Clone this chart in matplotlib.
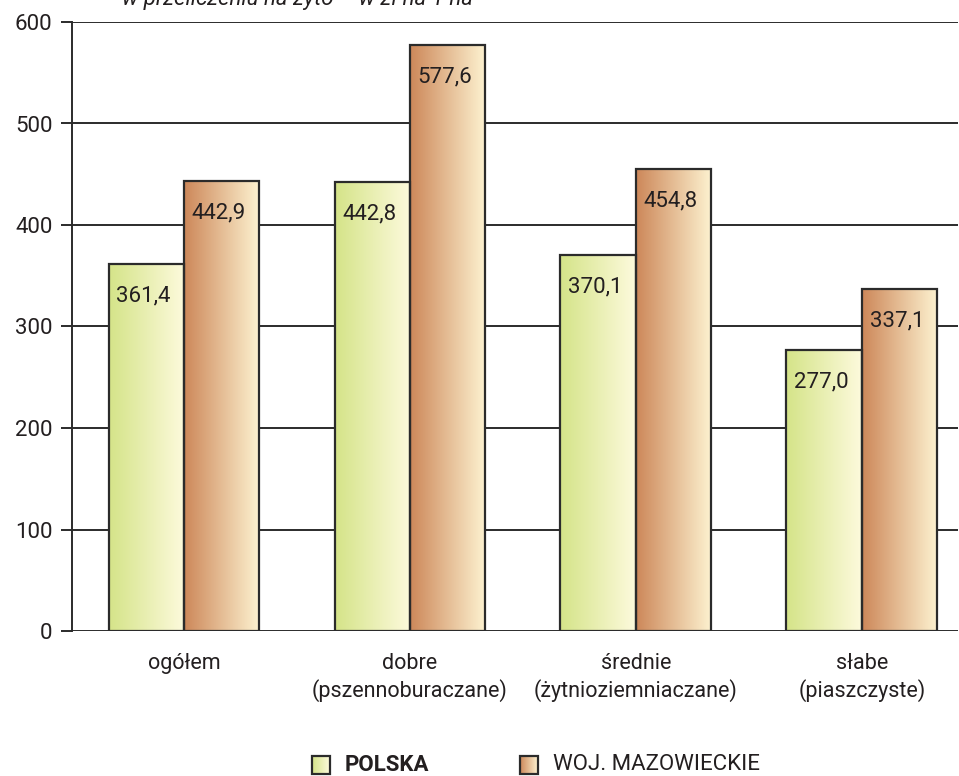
import numpy as np
import matplotlib
matplotlib.use("Agg")
import matplotlib.pyplot as plt
from matplotlib.patches import Rectangle

plt.rcParams['font.family'] = ['Liberation Sans Narrow', 'Roboto', 'DejaVu Sans']

categories = ["ogółem", "dobre\n(pszennoburaczane)", "średnie\n(żytnioziemniaczane)",
              "słabe\n(piaszczyste)"]
polska = [361.4, 442.8, 370.1, 277.0]
mazowieckie = [442.9, 577.6, 454.8, 337.1]
series_names = ["POLSKA", "WOJ. MAZOWIECKIE"]
yticks = [0, 100, 200, 300, 400, 500, 600]
subtitle = "w przeliczeniu na żyto – w zł na 1 ha"

green = ("#d5e489", "#fdfadc")
orange = ("#cd885a", "#fdf2d0")
edge = "#2b2b2b"
text_col = "#231f20"


def gradient(c0, c1, n=64):
    a = np.array(matplotlib.colors.to_rgb(c0))
    b = np.array(matplotlib.colors.to_rgb(c1))
    t = np.linspace(0, 1, n)[None, :, None]
    return a + (b - a) * t


def fmt(v):
    return "{:.1f}".format(v).replace(".", ",")


fig = plt.figure(figsize=(9.59, 7.76), dpi=100)
ax = fig.add_axes([72 / 959, 1 - 631 / 776, 886 / 959, 609 / 776])

x = np.arange(len(categories))
w = 0.334

# horizontal grid lines
for yv in yticks:
    ax.axhline(yv, color=edge, lw=1.4, zorder=1)

for vals, off, cols in [(polska, -w / 2, green), (mazowieckie, w / 2, orange)]:
    bars = ax.bar(x + off, vals, w, facecolor="none", edgecolor=edge, lw=1.6, zorder=4)
    grad = gradient(*cols)
    for b, v in zip(bars, vals):
        x0 = b.get_x()
        ax.imshow(grad, extent=[x0, x0 + b.get_width(), 0, v], aspect="auto",
                  zorder=3, interpolation="bilinear")
        ax.annotate(fmt(v), (x0 + b.get_width() / 2, v), xytext=(-2, -23),
                    textcoords="offset points", ha="center", va="center",
                    fontsize=16, color=text_col, zorder=5)

ax.set_xlim(-0.4956, 3.425)
ax.set_ylim(0, 600)
for s in ["top", "right", "bottom"]:
    ax.spines[s].set_visible(False)
ax.spines["left"].set_color(edge)
ax.spines["left"].set_linewidth(1.4)
ax.set_yticks(yticks)
ax.set_yticklabels([str(t) for t in yticks], fontsize=16, color=text_col)
ax.tick_params(axis="y", length=8, width=1.4, color=edge, pad=6)
ax.set_xticks(x)
ax.set_xticklabels(categories, fontsize=15.5, color=text_col, linespacing=1.25)
ax.tick_params(axis="x", length=0, pad=16)

# cropped subtitle at the very top
fig.text(0.31, 1.0, subtitle, ha="center", va="center", fontsize=16,
         style="italic", color=text_col)

# legend
lx = [312, 520]
ly = 765
for i, (name, cols) in enumerate(zip(series_names, [green, orange])):
    x0 = lx[i] / 959
    y0 = 1 - (ly + 9) / 776
    sw, sh = 18 / 959, 18 / 776
    lax = fig.add_axes([x0, y0, sw, sh])
    lax.imshow(gradient(*cols), extent=[0, 1, 0, 1], aspect="auto")
    lax.add_patch(Rectangle((0, 0), 1, 1, fill=False, ec=edge, lw=1.6,
                            transform=lax.transAxes, clip_on=False))
    lax.set_axis_off()
    fig.text((lx[i] + 33) / 959, 1 - ly / 776, name, ha="left", va="center",
             fontsize=16, color=text_col,
             fontweight="bold" if i == 0 else "normal")

fig.savefig("out.png", dpi=100)
